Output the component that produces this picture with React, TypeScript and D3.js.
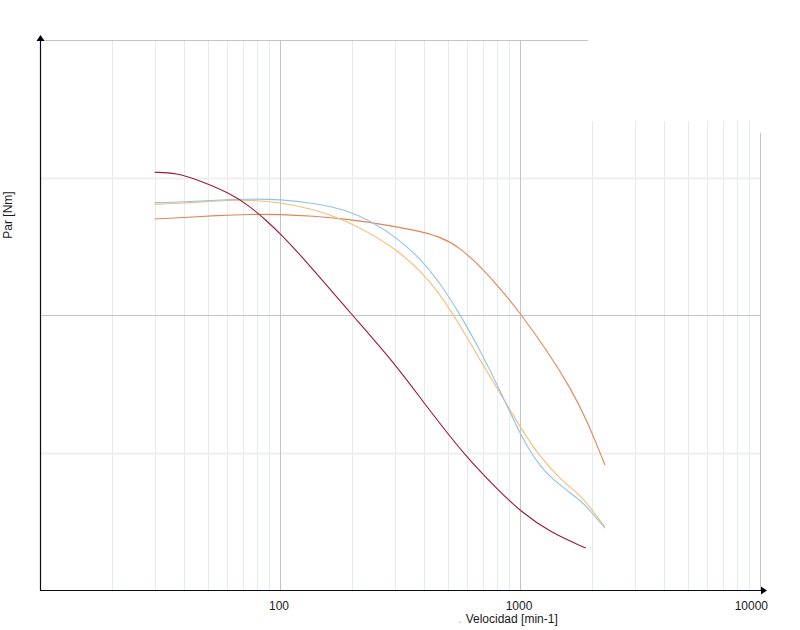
import React from "react";
import * as d3 from "d3";

// ---- Data ----
const redSpeed = [30, 37, 46, 62, 75, 88, 100, 125, 200, 300, 410, 600, 825, 1000, 1330, 1880];
const redTorque = [30.38, 30.33, 29.8, 28.85, 27.9, 26.85, 25.94, 24.15, 20.0, 16.51, 13.3, 9.6, 7.15, 5.75, 4.2, 3.05];

const blueSpeed = [30, 39.6, 54.5, 75, 100, 137.6, 189.6, 244.7, 306.4, 383, 464, 562, 681, 825, 1000, 1212, 1468, 1778, 1957, 2260];
const blueTorque = [28.17, 28.22, 28.36, 28.44, 28.41, 28.15, 27.64, 26.75, 25.6, 24.15, 22.33, 20.07, 17.45, 14.55, 11.3, 8.9, 7.6, 6.55, 5.8, 4.49];

const yellowSpeed = [30, 39.6, 54.5, 75, 100, 137.6, 189.6, 244.7, 306.4, 383, 464, 562, 681, 825, 1000, 1212, 1468, 1778, 1957, 2260];
const yellowTorque = [28.05, 28.12, 28.31, 28.38, 28.2, 27.72, 26.85, 25.82, 24.73, 23.27, 21.53, 19.27, 16.73, 14.33, 11.85, 9.67, 8.07, 6.91, 6.04, 4.58];

const orangeSpeed = [30, 39.6, 54.5, 75, 100, 137.6, 189.6, 261, 359, 464, 562, 681, 825, 1000, 1292, 1616, 1896, 2260];
const orangeTorque = [26.98, 27.08, 27.24, 27.33, 27.32, 27.2, 26.98, 26.62, 26.2, 25.72, 24.9, 23.56, 21.96, 20.15, 17.45, 14.75, 12.4, 9.09];

const xMinorTicks = [20, 30, 40, 50, 60, 70, 80, 90, 200, 300, 400, 500, 600, 700, 800, 900, 2000, 3000, 4000, 5000, 6000, 7000, 8000, 9000];
const xMajorTicks = [100, 1000, 10000];
const xTickLabels = ["100", "1000", "10000"];
const yMinorTicks = [10, 30];
const yMajorTicks = [20, 40];

const xTitle = "Velocidad [min-1]";
const yTitle = "Par [Nm]";

const seriesList = [
  { speed: orangeSpeed, torque: orangeTorque, color: "#e2865a" },
  { speed: yellowSpeed, torque: yellowTorque, color: "#f4bd7a" },
  { speed: blueSpeed, torque: blueTorque, color: "#93c3e2" },
  { speed: redSpeed, torque: redTorque, color: "#9e1a33" },
];

const W = 800;
const H = 630;
const left = 40, right = 760, top = 40, bottom = 590;

export default function App() {
  const x = d3.scaleLog().domain([10, 10000]).range([left, right]);
  const y = d3.scaleLinear().domain([0, 40]).range([bottom, top]);

  const line = d3
    .line<[number, number]>()
    .x((d) => x(d[0]))
    .y((d) => y(d[1]))
    .curve(d3.curveBasis);

  const font = "'Liberation Sans', Arial, sans-serif";

  return (
    <svg
      width={W}
      height={H}
      style={{ position: "absolute", left: 0, top: 0, background: "#fff" }}
      fontFamily={font}
    >
      {/* minor vertical grid */}
      {xMinorTicks.map((t) => (
        <line key={"xm" + t} x1={Math.round(x(t)) + 0.5} x2={Math.round(x(t)) + 0.5} y1={top} y2={bottom} stroke="#e5eaee" strokeWidth={1} />
      ))}
      {/* minor horizontal grid */}
      {yMinorTicks.map((t) => (
        <line key={"ym" + t} x1={left} x2={right} y1={Math.round(y(t)) + 0.5} y2={Math.round(y(t)) + 0.5} stroke="#efefef" strokeWidth={2} />
      ))}
      {/* major vertical grid */}
      {xMajorTicks.map((t) => (
        <line key={"xM" + t} x1={Math.round(x(t)) + 0.5} x2={Math.round(x(t)) + 0.5} y1={top} y2={bottom} stroke="#c4c4c4" strokeWidth={1} />
      ))}
      {/* major horizontal grid */}
      {yMajorTicks.map((t) => (
        <line key={"yM" + t} x1={left} x2={right} y1={Math.round(y(t)) + 0.5} y2={Math.round(y(t)) + 0.5} stroke="#c4c4c4" strokeWidth={1} />
      ))}

      {/* blank legend area */}
      <rect x={588} y={34} width={178} height={87} fill="#fff" />
      <rect x={755} y={120} width={11} height={13} fill="#fff" />

      {/* series */}
      {seriesList.map((s, i) => (
        <path
          key={i}
          d={line(s.speed.map((v, j) => [v, s.torque[j]] as [number, number])) || ""}
          fill="none"
          stroke={s.color}
          strokeWidth={1.1}
        />
      ))}

      {/* axes */}
      <line x1={left + 0.5} x2={left + 0.5} y1={bottom + 0.5} y2={top - 2} stroke="#0a0a23" strokeWidth={1.2} />
      <path d={`M${left + 0.5},${top - 5} L${left - 3.5},${top + 1} L${left + 4.5},${top + 1} Z`} fill="#000" />
      <line x1={left} x2={right + 3} y1={bottom + 0.5} y2={bottom + 0.5} stroke="#0a0a23" strokeWidth={1.2} />
      <path d={`M${right + 7},${bottom + 0.5} L${right + 1},${bottom - 3.5} L${right + 1},${bottom + 4.5} Z`} fill="#000" />

      {/* tick labels */}
      {xMajorTicks.map((t, i) => {
        const last = i === xMajorTicks.length - 1;
        return (
          <text
            key={"tl" + t}
            x={last ? x(t) + 8 : x(t) - 1}
            y={610}
            fontSize={12}
            fill="#1a1a1a"
            textAnchor={last ? "end" : "middle"}
          >
            {xTickLabels[i]}
          </text>
        );
      })}

      {/* axis titles */}
      <text x={458} y={623} fontSize={12} fill="#1a1a1a">
        <tspan fill="#b0b0b0">.</tspan>
        <tspan dx={1}>{" " + xTitle}</tspan>
      </text>
      <text transform="translate(12,215) rotate(-90)" fontSize={12} fill="#1a1a1a" textAnchor="middle">
        {yTitle}
      </text>
    </svg>
  );
}
